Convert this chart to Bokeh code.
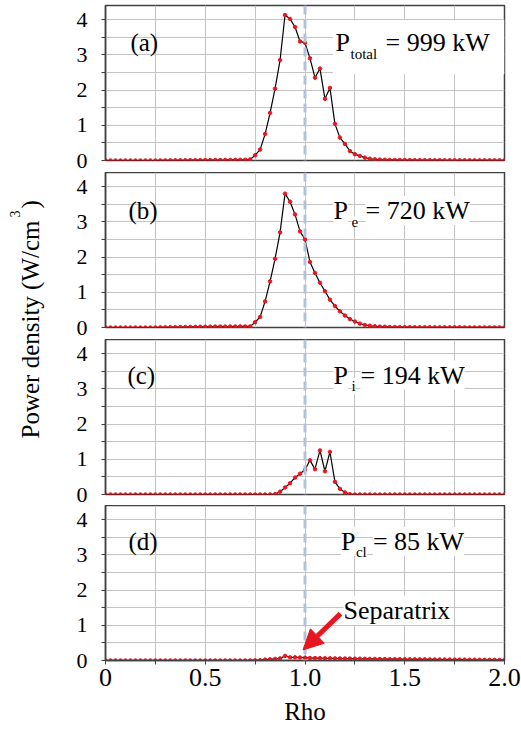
import math
from bokeh.plotting import figure
from bokeh.layouts import row, column
from bokeh.models import (FixedTicker, Span, Label, Arrow, NormalHead, Range1d,
                          BoxAnnotation, ColumnDataSource)
from bokeh.embed import file_html
from bokeh.resources import INLINE

# ---------------- data ----------------
rho = [0.0, 0.025, 0.05, 0.075, 0.1, 0.125, 0.15, 0.175, 0.2, 0.225,
       0.25, 0.275, 0.3, 0.325, 0.35, 0.375, 0.4, 0.425, 0.45, 0.475,
       0.5, 0.525, 0.55, 0.575, 0.6, 0.625, 0.65, 0.675, 0.7, 0.725,
       0.75, 0.775, 0.8, 0.825, 0.85, 0.875, 0.9, 0.925, 0.95, 0.975,
       1.0, 1.025, 1.05, 1.075, 1.1, 1.125, 1.15, 1.175, 1.2, 1.225,
       1.25, 1.275, 1.3, 1.325, 1.35, 1.375, 1.4, 1.425, 1.45, 1.475,
       1.5, 1.525, 1.55, 1.575, 1.6, 1.625, 1.65, 1.675, 1.7, 1.725,
       1.75, 1.775, 1.8, 1.825, 1.85, 1.875, 1.9, 1.925, 1.95, 1.975, 2.0]

p_total = [0, 0, 0, 0, 0, 0, 0, 0, 0, 0, 0,
           0.002, 0.003, 0.004, 0.005, 0.006, 0.007, 0.008, 0.009, 0.010,
           0.011, 0.012, 0.013, 0.014, 0.015, 0.017, 0.018, 0.020, 0.022,
           0.03, 0.15, 0.31, 0.75, 1.35, 2.04, 2.85, 4.13, 4.02, 3.79,
           3.38, 3.34, 2.90, 2.35, 2.61, 1.75, 2.06, 1.04, 0.65, 0.47,
           0.27, 0.18, 0.13, 0.08, 0.05, 0.035, 0.025, 0.02, 0.017, 0.015,
           0.013, 0.012,
           0.011, 0.010, 0.010, 0.009, 0.009, 0.008, 0.008, 0.007, 0.007, 0.007,
           0.006, 0.006, 0.006, 0.005, 0.005, 0.005, 0.005, 0.004, 0.004, 0.004]

p_e = [0, 0, 0, 0, 0, 0, 0, 0, 0, 0, 0,
       0.004, 0.006, 0.008, 0.010, 0.012, 0.014, 0.016, 0.018, 0.020, 0.022,
       0.024, 0.025, 0.026, 0.027, 0.028, 0.029, 0.030, 0.030, 0.030,
       0.15, 0.30, 0.74, 1.31, 1.95, 2.70, 3.80, 3.57, 3.21, 2.73,
       2.50, 1.86, 1.55, 1.27, 1.03, 0.79, 0.61, 0.46, 0.34, 0.24,
       0.17, 0.11, 0.07, 0.05, 0.035, 0.025, 0.02, 0.015, 0.012, 0.010,
       0.009, 0.008, 0.007, 0.007, 0.006, 0.006, 0.005, 0.005, 0.005, 0.004,
       0.004, 0.004, 0.003, 0.003, 0.003, 0.003, 0.002, 0.002, 0.002, 0.002, 0.002]

p_i = [0, 0, 0, 0, 0, 0, 0, 0, 0, 0,
       0, 0, 0, 0, 0, 0, 0, 0, 0, 0,
       0, 0, 0, 0, 0, 0, 0, 0, 0, 0,
       0, 0, 0, 0,
       0.01, 0.08, 0.20, 0.32, 0.48, 0.59, 0.70, 0.97, 0.72, 1.25,
       0.66, 1.21, 0.36, 0.16, 0.06, 0.01,
       0, 0, 0, 0, 0, 0, 0, 0, 0, 0,
       0, 0, 0, 0, 0, 0, 0, 0, 0, 0,
       0, 0, 0, 0, 0, 0, 0, 0, 0, 0, 0]

p_cl = [0, 0, 0, 0, 0, 0, 0, 0, 0, 0,
        0, 0, 0, 0, 0, 0, 0, 0, 0, 0,
        0, 0, 0, 0, 0, 0, 0, 0, 0,
        0.003, 0.005, 0.010, 0.025, 0.035, 0.045, 0.060, 0.130, 0.090, 0.090,
        0.085, 0.080,
        0.070, 0.068, 0.066, 0.064, 0.062, 0.060, 0.058, 0.056, 0.054, 0.052,
        0.050, 0.048, 0.046, 0.044, 0.042, 0.040, 0.039, 0.038, 0.037, 0.036,
        0.035, 0.034, 0.033, 0.032, 0.031, 0.030, 0.029, 0.028, 0.027, 0.026,
        0.025, 0.024, 0.023, 0.022, 0.021, 0.020, 0.019, 0.018, 0.017, 0.016]

series = [p_total, p_e, p_i, p_cl]
panel_tags = ["(a)", "(b)", "(c)", "(d)"]
power_subs = ["total", "e", "i", "cl"]
power_texts = ["= 999 kW", "= 720 kW", "= 194 kW", "= 85 kW"]

x_ticks = [0.0, 0.5, 1.0, 1.5, 2.0]
x_tick_labels = ["0", "0.5", "1.0", "1.5", "2.0"]
x_minor = [0.25, 0.75, 1.25, 1.75]
x_grid = [0.0, 0.25, 0.5, 0.75, 1.0, 1.25, 1.5, 1.75, 2.0]
y_ticks = [0, 1, 2, 3, 4]
y_minor = [0.5, 1.5, 2.5, 3.5]
y_grid = [0, 0.5, 1, 1.5, 2, 2.5, 3, 3.5, 4]
separatrix_rho = 1.0

# ---------------- style / layout ----------------
FONT = "'Liberation Serif', 'Times New Roman', serif"
DARK = "#404040"
GRID = "#c4c4c4"
RED = "#e8161e"
SEP = "#b3c2d8"

FRAME_W, FRAME_H = 399, 155
Y_MAX = 4.4
TITLE_W = 60
TOTAL_H = 727
borders_top = [5, 0, 0, 0]
borders_bottom = [12, 12, 11, 0]

tag_x = [0.125, 0.115, 0.11, 0.115]
tag_y = [3.34, 3.32, 3.39, 3.38]
p_x = [1.153, 1.143, 1.143, 1.18]
sub_dx = [15, 18, 18, 15]
rest_dx = [50, 32, 27, 32]

panels = []
for k in range(4):
    last = (k == 3)
    p = figure(frame_width=FRAME_W, frame_height=FRAME_H,
               x_range=Range1d(0, 2.0), y_range=Range1d(0, Y_MAX),
               output_backend="svg", toolbar_location=None,
               x_axis_location="below" if last else None,
               min_border_left=45, min_border_right=17,
               min_border_top=borders_top[k],
               min_border_bottom=borders_bottom[k],
               background_fill_color="white", border_fill_color="white")
    p.outline_line_color = DARK
    p.outline_line_width = 1.5

    # grids
    p.xgrid.ticker = FixedTicker(ticks=x_grid)
    p.ygrid.ticker = FixedTicker(ticks=y_grid)
    p.xgrid.grid_line_color = GRID
    p.ygrid.grid_line_color = GRID
    p.xgrid.grid_line_width = 1
    p.ygrid.grid_line_width = 1

    # y axis
    ya = p.yaxis[0]
    ya.ticker = FixedTicker(ticks=y_ticks, minor_ticks=y_minor)
    ya.axis_line_color = DARK
    ya.axis_line_width = 1.5
    ya.major_tick_line_color = DARK
    ya.minor_tick_line_color = DARK
    ya.major_tick_in = 0
    ya.major_tick_out = 4
    ya.minor_tick_in = 0
    ya.minor_tick_out = 4
    ya.major_label_standoff = 14
    ya.major_label_text_font = FONT
    ya.major_label_text_font_size = "22px"
    ya.major_label_text_color = "black"

    if last:
        xa = p.xaxis[0]
        xa.ticker = FixedTicker(ticks=x_ticks, minor_ticks=x_minor)
        xa.major_label_overrides = dict(zip(x_ticks, x_tick_labels))
        xa.axis_line_color = DARK
        xa.axis_line_width = 1.5
        xa.major_tick_line_color = DARK
        xa.minor_tick_line_color = DARK
        xa.major_tick_in = 0
        xa.major_tick_out = 4
        xa.minor_tick_in = 0
        xa.minor_tick_out = 4
        xa.major_label_standoff = 4
        xa.major_label_text_font = FONT
        xa.major_label_text_font_size = "26px"
        xa.major_label_text_color = "black"
        xa.axis_label = "Rho"
        xa.axis_label_standoff = 9
        xa.axis_label_text_font = FONT
        xa.axis_label_text_font_size = "25px"
        xa.axis_label_text_font_style = "normal"
        xa.axis_label_text_color = "black"

    if k == 0:
        p.add_layout(BoxAnnotation(left=1.14, right=2.0, bottom=2.45, top=3.98,
                                   fill_color="white", fill_alpha=1.0,
                                   line_color=None, level="underlay"))

    # separatrix
    p.add_layout(Span(location=separatrix_rho, dimension="height",
                      line_color=SEP, line_width=3, line_dash="9 5"))

    src = ColumnDataSource(data=dict(rho=rho, val=series[k]))
    p.line("rho", "val", source=src, line_color="black", line_width=1.2)
    p.scatter("rho", "val", source=src, marker="circle", size=3.5,
              fill_color=RED, line_color=RED)

    # annotation texts
    p.add_layout(Label(x=tag_x[k], y=tag_y[k], text=panel_tags[k],
                       text_font=FONT, text_font_size="25px",
                       text_baseline="alphabetic", text_align="left",
                       text_color="black"))
    p.add_layout(Label(x=p_x[k], y=tag_y[k], text="P",
                       text_font=FONT, text_font_size="26px",
                       text_baseline="alphabetic", text_align="left",
                       text_color="black", background_fill_color="white"))
    p.add_layout(Label(x=p_x[k], y=tag_y[k], x_offset=sub_dx[k], y_offset=-11,
                       text=power_subs[k],
                       text_font=FONT, text_font_size="15px",
                       text_baseline="alphabetic", text_align="left",
                       text_color="black", background_fill_color="white"))
    p.add_layout(Label(x=p_x[k], y=tag_y[k], x_offset=rest_dx[k],
                       text=power_texts[k],
                       text_font=FONT, text_font_size="26px",
                       text_baseline="alphabetic", text_align="left",
                       text_color="black", background_fill_color="white"))

    if last:
        p.add_layout(Label(x=1.193, y=1.43, text="Separatrix",
                           text_font=FONT, text_font_size="26px",
                           text_baseline="alphabetic", text_align="left",
                           text_color="black", background_fill_color="white"))
        p.add_layout(Arrow(end=NormalHead(size=20, fill_color=RED, line_color=RED),
                           x_start=1.178, y_start=1.33, x_end=0.99, y_end=0.3,
                           line_color=RED, line_width=5))
    panels.append(p)

# y-axis title in its own narrow figure (data units = pixels from bottom)
t = figure(width=TITLE_W, height=TOTAL_H, x_range=Range1d(0, TITLE_W),
           y_range=Range1d(0, TOTAL_H), output_backend="svg",
           toolbar_location=None, x_axis_location=None, y_axis_location=None,
           min_border=0, outline_line_color=None)
t.xgrid.visible = False
t.ygrid.visible = False
t.add_layout(Label(x=30, y=TOTAL_H - 438, text="Power density (W/cm",
                   angle=math.pi / 2, text_font=FONT, text_font_size="25px",
                   text_baseline="alphabetic", text_align="left", text_color="black"))
t.add_layout(Label(x=14, y=TOTAL_H - 217, text="3",
                   angle=math.pi / 2, text_font=FONT, text_font_size="14px",
                   text_baseline="alphabetic", text_align="left", text_color="black"))
t.add_layout(Label(x=30, y=TOTAL_H - 208, text=")",
                   angle=math.pi / 2, text_font=FONT, text_font_size="25px",
                   text_baseline="alphabetic", text_align="left", text_color="black"))

layout = row(t, column(*panels, spacing=0), spacing=0)

open("out.html", "w").write(file_html(layout, INLINE))
